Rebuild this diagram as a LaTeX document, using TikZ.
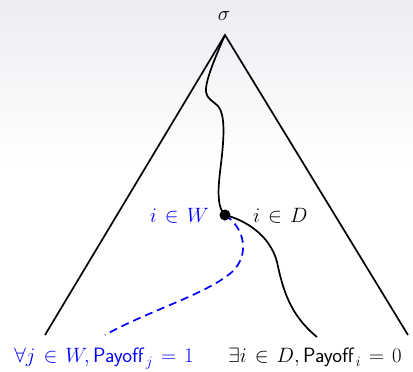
\documentclass[tikz,border=0pt]{standalone}
\usepackage{tikz}
\definecolor{bgtop}{RGB}{236,237,242}
\newcommand{\gin}{\mkern2mu\in\mkern2mu}
\newcommand{\geqsp}{\mkern2mu=\mkern2mu}
\tikzset{
  lbl/.style={inner sep=0pt,font=\fontsize{20.74}{25}\selectfont},
  edge/.style={line width=1.7pt,line join=miter},
  path/.style={line width=1.7pt},
  wpath/.style={line width=1.7pt,blue,dash pattern=on 8pt off 5pt},
  dot/.style={circle,fill=black,inner sep=0pt,minimum size=11pt}
}
\begin{document}
\begin{tikzpicture}[x=1pt,y=-1pt]
\fill[top color=bgtop,bottom color=white] (0,0) rectangle (413,165);
\useasboundingbox (0,0) rectangle (413,372);
\coordinate (apex) at (225,35);
\coordinate (bl) at (45,335);
\coordinate (br) at (408,335);
\coordinate (dend) at (317,337);
\coordinate (wend) at (105,335);
\node[lbl,anchor=base] (s) at (224,20) {$\sigma$};
\draw[edge] (bl) -- (apex) -- (br);
\draw[path] (apex) .. controls (214,60) and (205,82) .. (206,92)
  .. controls (207,99) and (213,101) .. (218,106)
  .. controls (225,114) and (224,135) .. (222,155)
  .. controls (220,175) and (214,205) .. (225,215);
\draw[path] (225,215) .. controls (245,220) and (270,235) .. (277,262)
  .. controls (283,290) and (290,315) .. (dend);
\draw[wpath] (225,215) .. controls (245,228) and (250,255) .. (232,272)
  .. controls (205,295) and (150,310) .. (wend);
\node[dot] (v) at (225,215) {};
\node[lbl,anchor=base east,blue] (lw) at (209,222) {$i\gin W$};
\node[lbl,anchor=base west] (ld) at (253,222) {$i\gin D$};
\node[lbl,anchor=base,blue] (bw) at (104,362) {$\forall j\gin W, \textsf{Payoff}_{\,j}\geqsp 1$};
\node[lbl,anchor=base] (bd) at (315,362) {$\exists i\gin D, \textsf{Payoff}_{\,i}\geqsp 0$};
\end{tikzpicture}
\end{document}
